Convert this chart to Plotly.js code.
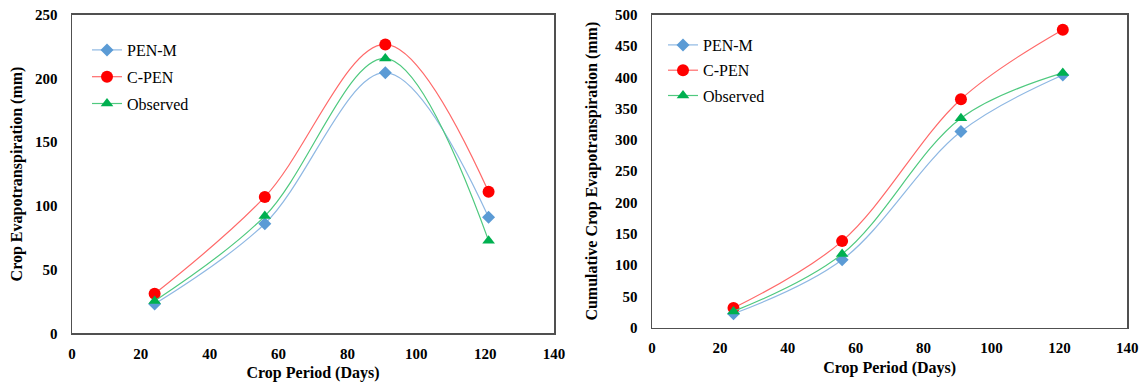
<!DOCTYPE html>
<html>
<head>
<meta charset="utf-8">
<script src="https://cdn.plot.ly/plotly-3.0.1.min.js"></script>
<style>html,body{margin:0;padding:0;background:#fff;}#chart{width:1145px;height:384px;}</style>
</head>
<body>
<div id="chart"></div>
<script>
// Crop period (days)
const days = [24, 56, 91, 121];
const seriesNames = ["PEN-M", "C-PEN", "Observed"];

// Left panel: crop evapotranspiration per stage (mm)
const penM = [23, 86, 204.5, 91];
const cPen = [31, 107, 226.7, 111];
const observed = [25.4, 92, 215.7, 72.7];

// Right panel: cumulative crop evapotranspiration (mm)
const penMCum = [22.3, 108.5, 313.3, 403.7];
const cPenCum = [31.4, 138.3, 365, 476];
const observedCum = [26, 117.6, 334.6, 407];

const xTicks = [0, 20, 40, 60, 80, 100, 120, 140];
const yTicksLeft = [0, 50, 100, 150, 200, 250];
const yTicksRight = [0, 50, 100, 150, 200, 250, 300, 350, 400, 450, 500];

const FONT = "'Liberation Serif', 'Times New Roman', 'DejaVu Serif', serif";
const styles = [
  {line: "#8fb8e3", marker: "#5b9bd5", symbol: "diamond", size: 10},
  {line: "#ff6a6a", marker: "#ff0000", symbol: "circle", size: 12},
  {line: "#4fc97f", marker: "#00b050", symbol: "triangle-up", size: 11}
];

function mk(y, i, xa, ya, legend, grp) {
  const s = styles[i];
  return {
    x: days, y: y, name: seriesNames[i], type: "scatter", mode: "lines+markers",
    xaxis: xa, yaxis: ya, legend: legend, legendgroup: grp + i,
    line: {color: s.line, width: 1.2, shape: "spline", smoothing: 1},
    marker: {color: s.marker, symbol: s.symbol, size: s.size, line: {width: 0}}
  };
}

const data = [
  mk(penM, 0, "x", "y", "legend", "L"),
  mk(cPen, 1, "x", "y", "legend", "L"),
  mk(observed, 2, "x", "y", "legend", "L"),
  mk(penMCum, 0, "x2", "y2", "legend2", "R"),
  mk(cPenCum, 1, "x2", "y2", "legend2", "R"),
  mk(observedCum, 2, "x2", "y2", "legend2", "R")
];

const tickFont = {family: FONT, size: 15, color: "#000"};
const titleFont = {family: FONT, size: 16, color: "#000"};
function xax(domain, anchor, title) {
  return {
    domain: domain, anchor: anchor, range: [0, 140], tickvals: xTicks,
    ticktext: xTicks.map(v => "<b>" + v + "</b>"),
    showgrid: false, zeroline: false, showline: true, mirror: true,
    linecolor: "#505050", linewidth: 1.5,
    ticks: "outside", ticklen: 6, tickcolor: "rgba(0,0,0,0)",
    tickfont: tickFont,
    title: {text: "<b>" + title + "</b>", font: titleFont, standoff: 6}
  };
}
function yax(domain, anchor, ticks, range, title, standoff) {
  return {
    domain: domain, anchor: anchor, range: range, tickvals: ticks,
    ticktext: ticks.map(v => "<b>" + v + "</b>"),
    showgrid: false, zeroline: false, showline: true, mirror: true,
    linecolor: "#505050", linewidth: 1.5,
    ticks: "outside", ticklen: 10, tickcolor: "rgba(0,0,0,0)",
    tickfont: tickFont,
    title: {text: "<b>" + title + "</b>", font: titleFont, standoff: standoff}
  };
}

const legendFont = {family: FONT, size: 16, color: "#000"};
const layout = {
  width: 1145, height: 384,
  margin: {l: 0, r: 0, t: 0, b: 0},
  paper_bgcolor: "#fff", plot_bgcolor: "#fff",
  showlegend: true,
  xaxis: xax([72/1145, 554/1145], "y", "Crop Period (Days)"),
  yaxis: yax([1 - 333.3/384, 1 - 14.7/384], "x", yTicksLeft, [0, 250], "Crop Evapotranspiration (mm)", 8),
  xaxis2: xax([652/1145, 1127.3/1145], "y2", "Crop Period (Days)"),
  yaxis2: yax([1 - 327.7/384, 1 - 14.7/384], "x2", yTicksRight, [0, 500], "Cumulative Crop Evapotranspiration (mm)", 13),
  legend: {x: 87/1145, y: 1 - 33/384, xanchor: "left", yanchor: "top", xref: "paper", yref: "paper",
    bgcolor: "rgba(0,0,0,0)", font: legendFont, traceorder: "grouped", tracegroupgap: 3},
  legend2: {x: 663/1145, y: 1 - 28/384, xanchor: "left", yanchor: "top", xref: "paper", yref: "paper",
    bgcolor: "rgba(0,0,0,0)", font: legendFont, traceorder: "grouped", tracegroupgap: 1.5}
};

Plotly.newPlot("chart", data, layout, {displayModeBar: false, staticPlot: true});
</script>
</body>
</html>
